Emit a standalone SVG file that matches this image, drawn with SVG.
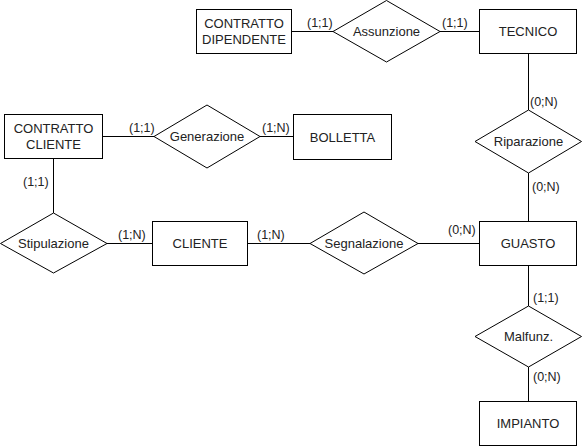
<svg xmlns="http://www.w3.org/2000/svg" width="582" height="446" viewBox="0 0 582 446">
<style>
.ent{fill:#fff;stroke:#000;stroke-width:1}
.rel{fill:#fff;stroke:#000;stroke-width:1}
.t{font-family:"Liberation Sans",Arial,sans-serif;font-size:13px;fill:#222;text-anchor:middle}
.lb{font-family:"Liberation Sans",Arial,sans-serif;font-size:12.5px;fill:#222}
#connectors line{stroke:#000;stroke-width:1}
</style>
<rect width="582" height="446" fill="#fff"/>
<g id="connectors">
<line x1="292" y1="31.5" x2="333" y2="31.5"/>
<line x1="440" y1="31.5" x2="479" y2="31.5"/>
<line x1="528.5" y1="54" x2="528.5" y2="110"/>
<line x1="528.5" y1="173" x2="528.5" y2="221"/>
<line x1="103" y1="136.5" x2="154" y2="136.5"/>
<line x1="260" y1="136.5" x2="293" y2="136.5"/>
<line x1="53.5" y1="159" x2="53.5" y2="213"/>
<line x1="107" y1="243.5" x2="152" y2="243.5"/>
<line x1="248" y1="243.5" x2="310" y2="243.5"/>
<line x1="418" y1="243.5" x2="479" y2="243.5"/>
<line x1="528.5" y1="266" x2="528.5" y2="306"/>
<line x1="528.5" y1="367" x2="528.5" y2="401"/>
</g>
<g id="labels">
<text class="lb" x="307" y="27">(1;1)</text>
<text class="lb" x="442" y="27">(1;1)</text>
<text class="lb" x="530" y="106">(0;N)</text>
<text class="lb" x="532" y="191">(0;N)</text>
<text class="lb" x="129" y="132">(1;1)</text>
<text class="lb" x="262" y="132">(1;N)</text>
<text class="lb" x="23" y="186">(1;1)</text>
<text class="lb" x="118" y="239">(1;N)</text>
<text class="lb" x="257" y="239">(1;N)</text>
<text class="lb" x="448" y="234">(0;N)</text>
<text class="lb" x="533" y="302">(1;1)</text>
<text class="lb" x="533" y="381">(0;N)</text>
</g>
<g id="contratto-dipendente">
<rect class="ent" x="196.5" y="9.5" width="95" height="44"/>
<text class="t" x="244" y="27.5">CONTRATTO</text>
<text class="t" x="244" y="44">DIPENDENTE</text>
</g>
<g id="assunzione">
<polygon class="rel" points="333,31.5 386.5,0.5 440,31.5 386.5,62"/>
<text class="t" x="386.5" y="36">Assunzione</text>
</g>
<g id="tecnico">
<rect class="ent" x="479.5" y="9.5" width="97" height="44"/>
<text class="t" x="528" y="36">TECNICO</text>
</g>
<g id="riparazione">
<polygon class="rel" points="475,141.5 528.5,110 581.5,141.5 528.5,173"/>
<text class="t" x="528.5" y="146">Riparazione</text>
</g>
<g id="contratto-cliente">
<rect class="ent" x="4.5" y="114.5" width="98" height="44"/>
<text class="t" x="53.5" y="133">CONTRATTO</text>
<text class="t" x="53.5" y="149">CLIENTE</text>
</g>
<g id="generazione">
<polygon class="rel" points="154,136.5 207,105 260,136.5 207,168"/>
<text class="t" x="207" y="141">Generazione</text>
</g>
<g id="bolletta">
<rect class="ent" x="293.5" y="114.5" width="98" height="45"/>
<text class="t" x="342.5" y="141.5">BOLLETTA</text>
</g>
<g id="stipulazione">
<polygon class="rel" points="0.5,243.5 53.5,213 107,243.5 53.5,273"/>
<text class="t" x="53.5" y="248">Stipulazione</text>
</g>
<g id="cliente">
<rect class="ent" x="152.5" y="221.5" width="95" height="44"/>
<text class="t" x="200" y="248">CLIENTE</text>
</g>
<g id="segnalazione">
<polygon class="rel" points="310,243.5 364,212 418,243.5 364,274"/>
<text class="t" x="364" y="248">Segnalazione</text>
</g>
<g id="guasto">
<rect class="ent" x="479.5" y="221.5" width="97" height="44"/>
<text class="t" x="528" y="248">GUASTO</text>
</g>
<g id="malfunz">
<polygon class="rel" points="475,336.5 528.5,306 581.5,336.5 528.5,367"/>
<text class="t" x="528.5" y="341">Malfunz.</text>
</g>
<g id="impianto">
<rect class="ent" x="479.5" y="401.5" width="97" height="44"/>
<text class="t" x="528" y="428">IMPIANTO</text>
</g>
</svg>
